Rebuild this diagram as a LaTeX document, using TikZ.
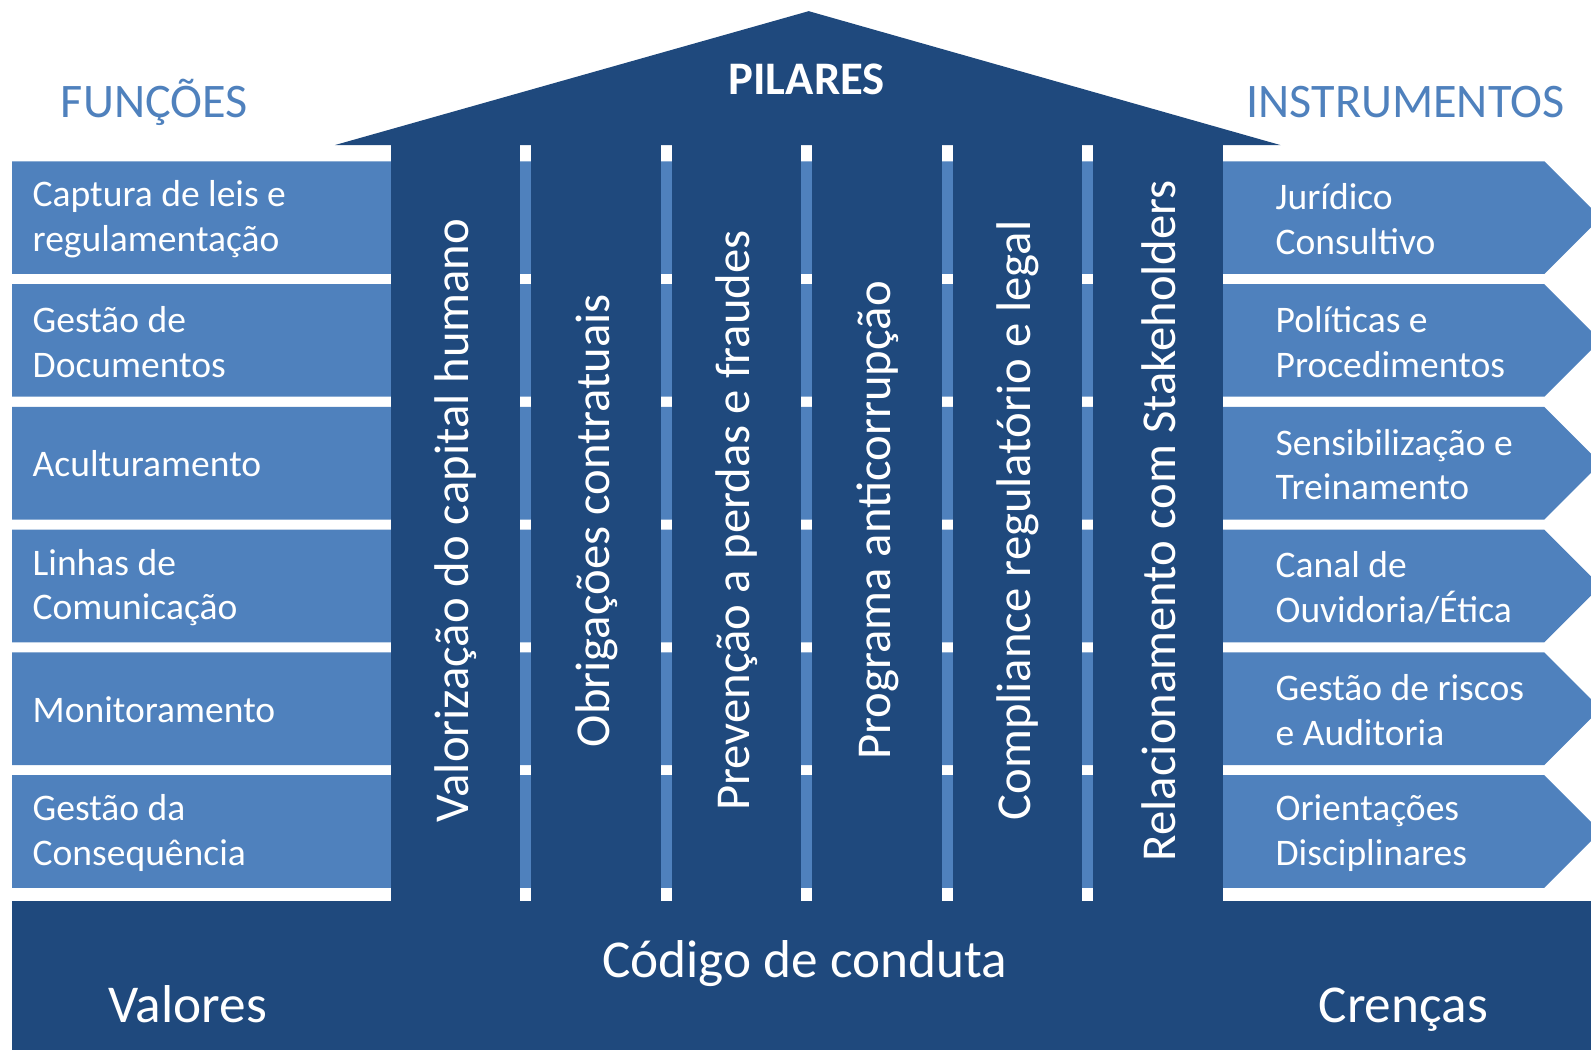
\documentclass[tikz,border=0pt]{standalone}
\usepackage{fontspec}
\setmainfont{Carlito}
\definecolor{escuro}{HTML}{1F497D}
\definecolor{claro}{HTML}{4F81BD}
\begin{document}
\begin{tikzpicture}[x=1pt,y=-1pt,
    caixa/.style={anchor=west,align=left,inner sep=0pt,text=white,font=\fontsize{37}{44}\selectfont},
    pilar/.style={rotate=90,inner sep=0pt,text=white,font=\fontsize{48}{52}\selectfont},
    titulo/.style={anchor=base,inner sep=0pt,text=claro,font=\fontsize{47.5}{52}\selectfont},
    rodape/.style={anchor=base,inner sep=0pt,text=white,font=\fontsize{52.5}{56}\selectfont}]
    \useasboundingbox (0,0) rectangle (1568,1035);
    \clip (0,0) rectangle (1568,1035);

    % faixas (funcoes a esquerda, instrumentos a direita)
    \foreach \y in {159,280,401,522,643,764}
      \fill[claro] (12,\y)--(1522,\y)--(1577.5,\y+55.5)--(1522,\y+111)--(12,\y+111)--cycle;

    % telhado, pilares e base
    \fill[escuro] (330,143)--(797,11)--(1262,143)--cycle;
    \foreach \x in {385,523.5,662,800.5,939,1077.5}
      \fill[escuro] (\x,143) rectangle (\x+127.5,888);
    \fill[escuro] (12,888) rectangle (1568,1035);

    \node[inner sep=0pt,text=white,font=\fontsize{46}{50}\selectfont\bfseries] (pilares) at (795,78) {PILARES};
    \node[titulo] (funcoes) at (152,116) {FUNÇÕES};
    \node[titulo] (instrumentos) at (1385,116) {INSTRUMENTOS};

    \node[caixa] (f1) at (32,216) {Captura de leis e\\regulamentação};
    \node[caixa] (f2) at (32,337) {Gestão de\\Documentos};
    \node[caixa] (f3) at (32,457) {Aculturamento};
    \node[caixa] (f4) at (32,579) {Linhas de\\Comunicação};
    \node[caixa] (f5) at (32,699) {Monitoramento};
    \node[caixa] (f6) at (32,821) {Gestão da\\Consequência};

    \node[caixa] (i1) at (1257,216) {Jurídico\\Consultivo};
    \node[caixa] (i2) at (1257,337) {Políticas e\\Procedimentos};
    \node[caixa] (i3) at (1257,458) {Sensibilização e\\Treinamento};
    \node[caixa] (i4) at (1257,579) {Canal de\\Ouvidoria/Ética};
    \node[caixa] (i5) at (1257,700) {Gestão de riscos\\e Auditoria};
    \node[caixa] (i6) at (1257,821) {Orientações\\Disciplinares};

    \node[pilar] (p1) at (449.5,513) {Valorização do capital humano};
    \node[pilar] (p2) at (588,513) {Obrigações contratuais};
    \node[pilar] (p3) at (726.5,513) {Prevenção a perdas e fraudes};
    \node[pilar] (p4) at (865,513) {Programa anticorrupção};
    \node[pilar] (p5) at (1003.5,513) {Compliance regulatório e legal};
    \node[pilar] (p6) at (1142,513) {Relacionamento com Stakeholders};

    \node[rodape] (codigo) at (793,963) {Código de conduta};
    \node[rodape] (valores) at (185,1008) {Valores};
    \node[rodape] (crencas) at (1383,1008) {Crenças};
\end{tikzpicture}
\end{document}
